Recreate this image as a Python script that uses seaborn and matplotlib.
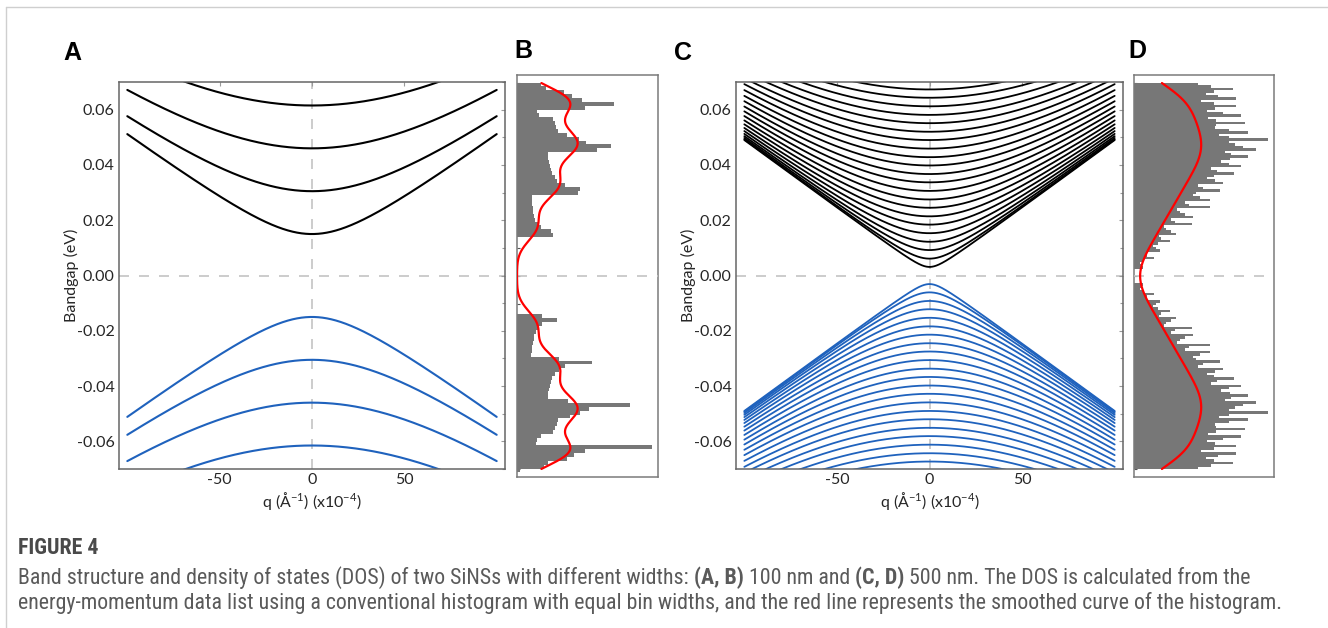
import numpy as np
import pandas as pd
import matplotlib
matplotlib.use("Agg")
import matplotlib.pyplot as plt
import seaborn as sns
from matplotlib import font_manager as fm
from matplotlib.lines import Line2D

# ---------------- data ----------------
# q range of the computed dispersion (x 10^-4 1/Angstrom)
q_limits = [-100, 100]
band_slope = 0.000489
# band-edge energies (eV) at q = 0 for the 100 nm ribbon (panel A)
edges_A = [0.0150, 0.0305, 0.0460, 0.0615]
# band-edge energies (eV) at q = 0 for the 500 nm ribbon (panel C)
edges_C = [0.0031, 0.0061, 0.0092, 0.0122, 0.0153, 0.0184, 0.0214, 0.0245,
           0.0275, 0.0306, 0.0337, 0.0367, 0.0398, 0.0428, 0.0459, 0.0490,
           0.0520, 0.0551, 0.0581, 0.0612, 0.0643, 0.0673]
energy_window = 0.07
bin_width_B = 0.0014
bin_shift_B = 0.00014
bin_width_D = 0.000875
bin_shift_D = 0.0
smooth_B = 0.0045   # eV, width of the smoothing kernel (red line)
smooth_D = 0.0060

x_ticks = [-50, 0, 50]
y_ticks = [-0.06, -0.04, -0.02, 0.00, 0.02, 0.04, 0.06]
y_tick_labels = ["-0.06", "-0.04", "-0.02", "0.00", "0.02", "0.04", "0.06"]
panel_letters = ["A", "B", "C", "D"]
x_label = "q (Å$^{-1}$) (x10$^{-4}$)"
y_label = "Bandgap (eV)"
caption_title = "FIGURE 4"
caption_line1 = [("Band structure and density of states (DOS) of two SiNSs with different widths: ", "normal"),
                 ("(A, B)", "bold"), (" 100 nm and ", "normal"), ("(C, D)", "bold"),
                 (" 500 nm. The DOS is calculated from the", "normal")]
caption_line2 = [("energy-momentum data list using a conventional histogram with equal bin widths, "
                  "and the red line represents the smoothed curve of the histogram.", "normal")]


def band_frame(edges):
    q = np.linspace(q_limits[0], q_limits[1], 2001)
    rows = []
    for i, e0 in enumerate(edges):
        e = np.sqrt(e0 ** 2 + (band_slope * q) ** 2)
        rows.append(pd.DataFrame({"q": q, "E": e, "band": i, "kind": "c"}))
        rows.append(pd.DataFrame({"q": q, "E": -e, "band": i, "kind": "v"}))
    return pd.concat(rows, ignore_index=True)


df_A = band_frame(edges_A)
df_C = band_frame(edges_C)

# ---------------- style ----------------
sns.set_theme(style="white")


def has_font(name):
    try:
        fm.findfont(fm.FontProperties(family=name), fallback_to_default=False)
        return True
    except Exception:
        return False


tick_font = "Lato" if has_font("Lato") else "DejaVu Sans"
cap_font = "Open Sans"
for cand in ["Liberation Sans Narrow", "Roboto Condensed", "Open Sans Condensed", "Open Sans"]:
    if has_font(cand):
        cap_font = cand
        break
plt.rcParams["font.family"] = [tick_font, "DejaVu Sans"]
plt.rcParams["mathtext.default"] = "regular"

W, H = 1328, 628
fig = plt.figure(figsize=(W / 100, H / 100), dpi=100)


def rect(l, t, r, b):
    return [l / W, 1 - b / H, (r - l) / W, (b - t) / H]


SPINE = "#666666"
DASH = "#c4c4c4"
BLUE = "#1f62bd"
TXT = "#262626"


def style_band_axes(ax):
    ax.set_xlim(-104.5, 104.5)
    ax.set_ylim(-energy_window, energy_window)
    ax.set_xticks(x_ticks)
    ax.set_xticklabels([str(t) for t in x_ticks])
    ax.set_yticks(y_ticks)
    ax.set_yticklabels(y_tick_labels)
    ax.set_yticks(np.arange(-0.07, 0.0701, 0.01), minor=True)
    ax.tick_params(which="both", direction="in", top=True, right=True, length=3,
                   width=0.8, color="#9a9a9a", labelsize=11.5, labelcolor=TXT, pad=3)
    ax.tick_params(which="minor", length=2)
    ax.set_xlabel(x_label, fontsize=11.5, color=TXT, labelpad=2)
    ax.set_ylabel(y_label, fontsize=11.5, color=TXT)
    ax.yaxis.set_label_coords(-0.104, 0.5)
    for s in ax.spines.values():
        s.set_color(SPINE)
        s.set_linewidth(1.1)
    ax.axvline(0, color=DASH, ls=(0, (6, 6)), lw=1.2, zorder=0)
    ax.axhline(0, color=DASH, ls=(0, (6, 6)), lw=1.2, zorder=0)


def band_panel(ax, df, lw):
    sns.lineplot(data=df[df.kind == "c"], x="q", y="E", units="band", estimator=None,
                 color="black", lw=lw, ax=ax, legend=False, sort=False)
    sns.lineplot(data=df[df.kind == "v"], x="q", y="E", units="band", estimator=None,
                 color=BLUE, lw=lw, ax=ax, legend=False, sort=False)
    style_band_axes(ax)


def dos_panel(ax, df, width, shift, sigma, red_frac):
    e = df["E"].to_numpy()
    e = e[np.abs(e) <= energy_window]
    bins = np.arange(-energy_window - width + shift, energy_window + width, width)
    sns.histplot(y=e, bins=bins, color="#777777", alpha=1, linewidth=0, edgecolor="none", ax=ax)
    ax.set_ylim(-0.0729, 0.0729)
    mx = max(p.get_width() for p in ax.patches)
    ax.set_xlim(0, mx / 0.955)
    ax.axhline(0, color=DASH, ls=(0, (6, 6)), lw=1.2, zorder=3)
    ax.set_xticks([])
    ax.set_yticks(np.arange(-0.07, 0.0701, 0.01))
    ax.set_yticklabels([])
    ax.tick_params(axis="y", direction="in", length=2.5, width=0.8, color="#555555", left=True)
    ax.set_xlabel("")
    ax.set_ylabel("")
    for s in ax.spines.values():
        s.set_color("#7a7a7a")
        s.set_linewidth(1.1)
    ax2 = ax.twiny()
    sns.kdeplot(y=e, bw_method=sigma / np.std(e), cut=0, color="red", lw=1.6, ax=ax2, gridsize=600)
    xm = ax2.lines[0].get_xdata().max()
    ax2.set_xlim(0, xm / red_frac)
    ax2.set_ylim(-0.0729, 0.0729)
    ax2.axis("off")


axA = fig.add_axes(rect(119, 82, 505, 469))
axB = fig.add_axes(rect(517, 75, 658, 477))
axC = fig.add_axes(rect(736, 82, 1123, 469))
axD = fig.add_axes(rect(1134, 75, 1274, 477))

band_panel(axA, df_A, 1.5)
dos_panel(axB, df_A, bin_width_B, bin_shift_B, smooth_B, 0.43)
band_panel(axC, df_C, 1.3)
dos_panel(axD, df_C, bin_width_D, bin_shift_D, smooth_D, 0.48)

# panel letters
for letter, (px, py) in zip(panel_letters, [(72, 53), (523, 51), (683, 53), (1137, 51)]):
    fig.text(px / W, 1 - py / H, letter, fontsize=18, fontweight="bold", ha="center", va="center",
             family=["Liberation Sans", "DejaVu Sans"], color="black")

# frame lines of the figure page
fig.add_artist(Line2D([6 / W, 1], [1 - 7 / H, 1 - 7 / H], color="#cfcfcf", lw=1))
fig.add_artist(Line2D([6 / W, 6 / W], [0, 1 - 7 / H], color="#cfcfcf", lw=1))

# caption
renderer = fig.canvas.get_renderer()
CAP = "#5a5a5a"


def text_width(s, size, weight):
    t = fig.text(0, 0, s + "|", fontsize=size, weight=weight, family=[cap_font, "DejaVu Sans"])
    w1 = t.get_window_extent(renderer).width
    t.set_text("|")
    w2 = t.get_window_extent(renderer).width
    t.remove()
    return w1 - w2


def draw_pieces(x0, y, pieces, size):
    x = x0
    for s, wt in pieces:
        fig.text(x / W, 1 - y / H, s, fontsize=size, weight=wt, color=CAP, va="center",
                 family=[cap_font, "DejaVu Sans"])
        x += text_width(s, size, wt)


base = 10
w_line = sum(text_width(s, base, wt) for s, wt in caption_line1)
cap_size = base * (1243 - 18) / w_line
title_w = text_width(caption_title, base, "bold")
fig.text(18 / W, 1 - 548 / H, caption_title, fontsize=base * 80 / title_w, color="#4a4a4a",
         va="center", family=[cap_font, "DejaVu Sans"], weight="bold")
draw_pieces(18, 578, caption_line1, cap_size)
draw_pieces(18, 603, caption_line2, cap_size)

fig.savefig("out.png", dpi=100)
